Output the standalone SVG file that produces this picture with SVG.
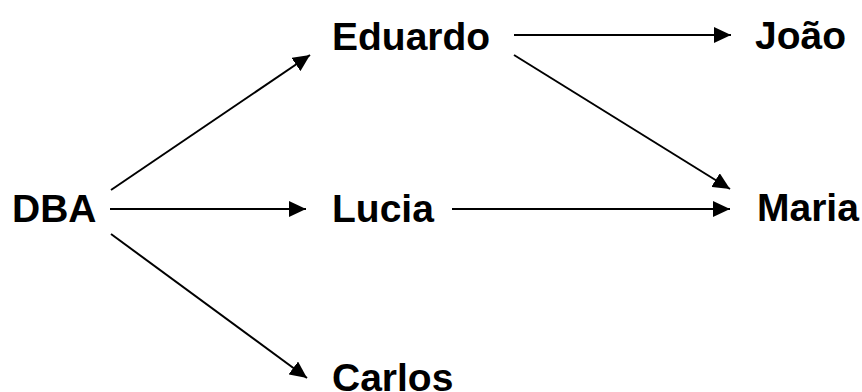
<svg xmlns="http://www.w3.org/2000/svg" width="862" height="392" viewBox="0 0 862 392">
<style>
text{font-family:"Liberation Sans",Arial,sans-serif;font-weight:bold;font-size:39px;fill:#000}
.c line{stroke:#000;stroke-width:2;marker-end:url(#ah)}
</style>
<defs>
<marker id="ah" viewBox="0 0 17 16" refX="17" refY="8" markerWidth="17" markerHeight="16" markerUnits="userSpaceOnUse" orient="auto">
<path d="M0,0 L17,8 L0,16 z" fill="#000"/>
</marker>
</defs>
<rect width="862" height="392" fill="#fff"/>
<g class="c" id="connectors">
<line x1="111" y1="190" x2="310" y2="55"/>
<line x1="110" y1="209" x2="306" y2="209"/>
<line x1="111" y1="234" x2="307" y2="378"/>
<line x1="514" y1="35" x2="731" y2="35"/>
<line x1="514" y1="55" x2="730" y2="189"/>
<line x1="452" y1="209" x2="730" y2="209"/>
</g>
<g id="dba"><text x="12" y="222">DBA</text></g>
<g id="eduardo"><text x="332" y="50">Eduardo</text></g>
<g id="lucia"><text x="332" y="222">Lucia</text></g>
<g id="carlos"><text x="332" y="391">Carlos</text></g>
<g id="joao"><text x="755" y="49">João</text></g>
<g id="maria"><text x="757" y="221">Maria</text></g>
</svg>
